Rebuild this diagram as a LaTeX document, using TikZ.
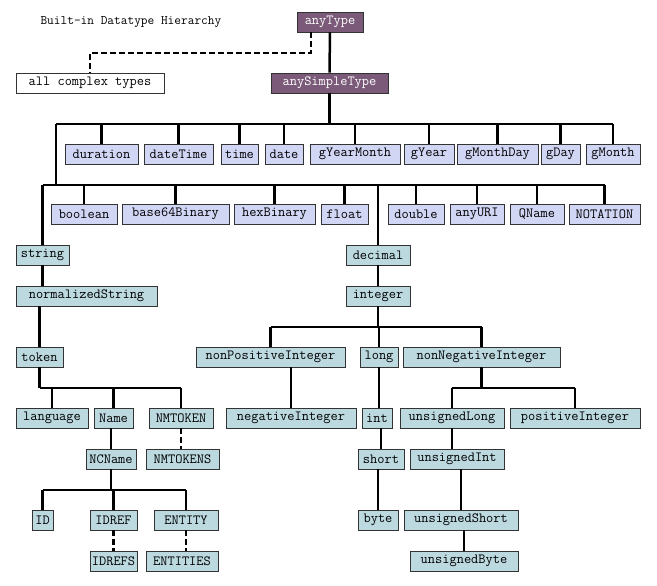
\documentclass[tikz,border=0pt]{standalone}
\begin{document}
\begin{tikzpicture}[x=1pt,y=-1pt,
  bx/.style={draw=black!80,line width=0.8pt,inner sep=0pt,font=\ttfamily\fontsize{14}{14}\selectfont},
  top/.style={bx,fill=top,text=white},
  wh/.style={bx,fill=white},
  lav/.style={bx,fill=lav},
  blu/.style={bx,fill=blu},
  ln/.style={line width=2.5pt},
  dsh/.style={line width=2.5pt,dash pattern=on 6pt off 3pt}]
\definecolor{top}{HTML}{7A5A78}
\definecolor{lav}{HTML}{D2D6F5}
\definecolor{blu}{HTML}{BCD9E0}
\useasboundingbox (0,0) rectangle (657,586);
\newcommand\B[7]{\node[#7,minimum width={#4-#2},minimum height={#5-#3}] (#1) at ({(#2+#4)/2},{(#3+#5)/2}) {#6};}
\node[anchor=west,font=\ttfamily\fontsize{13}{13}\selectfont] (title) at (37,22) {Built-in Datatype Hierarchy};
\B{anyType}{297}{12}{363}{32}{anyType}{top}
\B{complex}{16}{73}{164}{93}{all complex types}{wh}
\B{anySimpleType}{271}{73}{388}{93}{anySimpleType}{top}
\B{duration}{65}{144}{138}{164}{duration}{lav}
\B{dateTime}{144}{144}{213}{164}{dateTime}{lav}
\B{time}{221}{144}{258}{164}{time}{lav}
\B{date}{265}{144}{303}{164}{date}{lav}
\B{gYearMonth}{310}{144}{400}{164}{gYearMonth}{lav}
\B{gYear}{404}{144}{454}{164}{gYear}{lav}
\B{gMonthDay}{457}{144}{538}{164}{gMonthDay}{lav}
\B{gDay}{541}{144}{580}{164}{gDay}{lav}
\B{gMonth}{586}{144}{640}{164}{gMonth}{lav}
\B{boolean}{51}{204}{117}{224}{boolean}{lav}
\B{base64Binary}{122}{204}{229}{224}{base64Binary}{lav}
\B{hexBinary}{234}{204}{315}{224}{hexBinary}{lav}
\B{float}{321}{204}{368}{224}{float}{lav}
\B{double}{388}{204}{444}{224}{double}{lav}
\B{anyURI}{450}{204}{504}{224}{anyURI}{lav}
\B{QName}{510}{204}{564}{224}{QName}{lav}
\B{NOTATION}{569}{204}{640}{224}{NOTATION}{lav}
\B{string}{16}{245}{69}{265}{string}{blu}
\B{decimal}{346}{245}{410}{265}{decimal}{blu}
\B{normalizedString}{16}{286}{157}{306}{normalizedString}{blu}
\B{integer}{346}{286}{410}{306}{integer}{blu}
\B{token}{16}{347}{63}{367}{token}{blu}
\B{nonPositiveInteger}{196}{347}{345}{367}{nonPositiveInteger}{blu}
\B{long}{360}{347}{398}{367}{long}{blu}
\B{nonNegativeInteger}{403}{347}{560}{367}{nonNegativeInteger}{blu}
\B{language}{16}{408}{88}{428}{language}{blu}
\B{Name}{94}{408}{133}{428}{Name}{blu}
\B{NMTOKEN}{149}{408}{213}{428}{NMTOKEN}{blu}
\B{negativeInteger}{226}{408}{356}{428}{negativeInteger}{blu}
\B{int}{362}{408}{392}{428}{int}{blu}
\B{unsignedLong}{400}{408}{504}{428}{unsignedLong}{blu}
\B{positiveInteger}{510}{408}{640}{428}{positiveInteger}{blu}
\B{NCName}{86}{449}{136}{469}{NCName}{blu}
\B{NMTOKENS}{146}{449}{219}{469}{NMTOKENS}{blu}
\B{short}{358}{449}{404}{469}{short}{blu}
\B{unsignedInt}{410}{449}{504}{469}{unsignedInt}{blu}
\B{ID}{32}{510}{53}{530}{ID}{blu}
\B{IDREF}{90}{510}{137}{530}{IDREF}{blu}
\B{ENTITY}{154}{510}{218}{530}{ENTITY}{blu}
\B{byte}{358}{510}{398}{530}{byte}{blu}
\B{unsignedShort}{404}{510}{518}{530}{unsignedShort}{blu}
\B{IDREFS}{90}{551}{137}{571}{IDREFS}{blu}
\B{ENTITIES}{146}{551}{218}{571}{ENTITIES}{blu}
\B{unsignedByte}{410}{551}{518}{571}{unsignedByte}{blu}
% anyType
\draw[ln] (anyType) -- (anySimpleType);
\coordinate (d1) at (311,53);
\draw[dsh] (anyType.south -| d1) -- (d1) -| (complex.north);
% bus 1
\coordinate (b1) at (56,124);
\draw[ln] (anySimpleType.south) -- (anySimpleType.south |- b1);
\draw[ln] (b1) -- (b1 -| gMonth);
\foreach \n in {duration,dateTime,time,date,gYearMonth,gYear,gMonthDay,gDay,gMonth}
  \draw[ln] (\n.north) -- (\n.north |- b1);
% bus 2
\coordinate (b2) at (56,185);
\draw[ln] (b1) -- (b2);
\draw[ln] (b2 -| string.north) -- (b2 -| NOTATION);
\foreach \n in {string,boolean,base64Binary,hexBinary,float,decimal,double,anyURI,QName,NOTATION}
  \draw[ln] (\n.north) -- (\n.north |- b2);
\draw[ln] (string) -- (string |- normalizedString.north);
\draw[ln] (token) -- (token |- normalizedString.south);
% token
\coordinate (b3) at (40,388);
\draw[ln] (token.south) -- (token.south |- b3);
\draw[ln] (token.south |- b3) -- (b3 -| NMTOKEN);
\foreach \n in {language,Name,NMTOKEN} \draw[ln] (\n.north) -- (\n.north |- b3);
\draw[ln] (NCName) -- (NCName |- Name.south);
\draw[dsh] (NMTOKEN) -- (NMTOKENS.north -| NMTOKEN);
\coordinate (b4) at (40,490);
\draw[ln] (NCName.south) -- (NCName.south |- b4);
\draw[ln] (b4 -| ID) -- (b4 -| ENTITY);
\foreach \n in {ID,IDREF,ENTITY} \draw[ln] (\n.north) -- (\n.north |- b4);
\draw[dsh] (IDREF) -- (IDREFS.north -| IDREF);
\draw[dsh] (ENTITY) -- (ENTITIES.north -| ENTITY);
% decimal
\draw[ln] (decimal) -- (integer);
\coordinate (b5) at (378,327);
\draw[ln] (integer.south) -- (integer.south |- b5);
\draw[ln] (b5 -| nonPositiveInteger) -- (b5 -| nonNegativeInteger);
\foreach \n in {nonPositiveInteger,long,nonNegativeInteger} \draw[ln] (\n.north) -- (\n.north |- b5);
\draw[ln] (negativeInteger) -- (negativeInteger |- nonPositiveInteger.south);
\draw[ln] (long) -- (int.north -| long);
\draw[ln] (short) -- (short |- int.south);
\draw[ln] (byte) -- (byte |- short.south);
\coordinate (b6) at (480,388);
\draw[ln] (nonNegativeInteger.south) -- (nonNegativeInteger.south |- b6);
\draw[ln] (b6 -| unsignedLong) -- (b6 -| positiveInteger);
\foreach \n in {unsignedLong,positiveInteger} \draw[ln] (\n.north) -- (\n.north |- b6);
\draw[ln] (unsignedLong) -- (unsignedInt.north -| unsignedLong);
\draw[ln] (unsignedShort) -- (unsignedShort |- unsignedInt.south);
\draw[ln] (unsignedByte) -- (unsignedByte |- unsignedShort.south);
\end{tikzpicture}
\end{document}
